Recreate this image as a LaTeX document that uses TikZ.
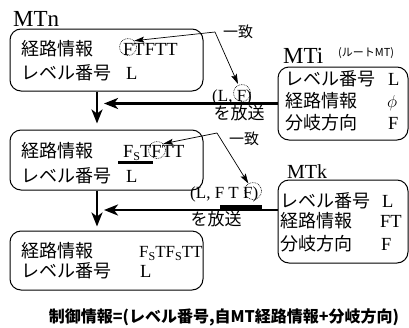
\documentclass[tikz,border=0pt]{standalone}
\usepackage{fontspec}
\setmainfont{Liberation Serif}
\newfontfamily\jp{Noto Sans CJK JP}
\usetikzlibrary{arrows.meta}
\newcommand\subS{\raisebox{-3pt}{\fontsize{12}{12}\selectfont S}}
\begin{document}
\begin{tikzpicture}[x=1pt,y=-1pt,
 box/.style={draw, rounded corners=11pt, line width=1pt, inner sep=0},
 jt/.style={font=\jp\fontsize{18}{20}\selectfont, inner sep=0, anchor=base west},
 lt/.style={font=\fontsize{18.5}{21}\selectfont, inner sep=0, anchor=base west},
 mt/.style={font=\fontsize{23}{25}\selectfont, inner sep=0, anchor=base west},
 lab/.style={font=\fontsize{17}{19}\selectfont, inner sep=0, anchor=base west},
 jlab/.style={font=\jp\fontsize{17}{19}\selectfont, inner sep=0},
 circ/.style={draw, circle, densely dotted, minimum size=17pt, inner sep=0, line width=0.7pt},
 big/.style={line width=2.6pt, -{Stealth[length=14pt,width=11pt,inset=4pt]}},
 pointer/.style={line width=0.7pt, -{Stealth[length=10pt,width=6pt,inset=2pt]}},
]
\useasboundingbox (0,0) rectangle (409,327);

% boxes
\node[box, minimum width=193pt, minimum height=62pt] (n1) at (106.5,60) {};
\node[box, minimum width=193pt, minimum height=60pt] (n2) at (106.5,160) {};
\node[box, minimum width=193pt, minimum height=59pt] (n3) at (106.5,260.5) {};
\node[box, minimum width=130pt, minimum height=73pt] (ti) at (343,103.5) {};
\node[box, minimum width=130pt, minimum height=83pt] (tk) at (343,221.5) {};

% titles
\node[mt] (lmtn) at (13,26) {MTn};
\node[mt] (lmti) at (283,63) {MTi};
\node[font=\jp\fontsize{11}{12}\selectfont, inner sep=0, anchor=west] (root) at (338,53) {(ルートMT)};
\node[mt, font=\fontsize{20}{22}\selectfont] (lmtk) at (287,178) {MTk};

% box 1
\node[jt] (n1a) at (21,55) {経路情報};
\node[lt] (n1av) at (123,55) {FTFTT};
\node[jt] (n1b) at (21,79) {レベル番号};
\node[lt] (n1bv) at (126,79) {L};

% box 2
\node[jt] (n2a) at (21,157) {経路情報};
\node[lt] (n2av) at (123,157) {F\subS TFTT};
\node[jt] (n2b) at (21,182) {レベル番号};
\node[lt] (n2bv) at (126,182) {L};

% box 3
\node[jt] (n3a) at (21,257) {経路情報};
\node[lt, font=\fontsize{17}{19}\selectfont] (n3av) at (139,257) {F\subS TF\subS TT};
\node[jt] (n3b) at (21,277) {レベル番号};
\node[lt] (n3bv) at (140,277) {L};

% MTi
\node[jt] (tia) at (285,85) {レベル番号};
\node[lt] (tiav) at (388,85) {L};
\node[jt] (tib) at (285,107) {経路情報};
\node[lt] (tibv) at (387,107) {$\phi$};
\node[jt] (tic) at (285,129) {分岐方向};
\node[lt] (ticv) at (388,129) {F};

% MTk
\node[jt] (tka) at (280,207) {レベル番号};
\node[lt] (tkav) at (382,207) {L};
\node[jt] (tkb) at (280,227) {経路情報};
\node[lt] (tkbv) at (380,227) {FT};
\node[jt] (tkc) at (280,250) {分岐方向};
\node[lt] (tkcv) at (381,250) {F};

% arrow labels
\node[lab] (l1) at (212,101) {(L, F)};
\node[jlab] (s1) at (239,113) {を放送};
\node[lab] (l2) at (190,198) {(L, F T F)};
\node[jlab] (s2) at (216,219) {を放送};
\node[jlab, font=\jp\fontsize{15}{17}\selectfont] (m1) at (238,32) {一致};
\node[jlab, font=\jp\fontsize{15}{17}\selectfont] (m2) at (244,139) {一致};

% dotted circles
\node[circ] (c1) at (128,47) {};
\node[circ] (c2) at (242,93) {};
\node[circ] (c3) at (157,150) {};
\node[circ] (c4) at (253,191) {};

% thick bars
\draw[line width=3pt] (118,162.5) -- (153,162.5);
\draw[line width=5pt] (220,207.5) -- (262,207.5);

% main arrows
\coordinate (vx) at (97,0);
\coordinate (h1) at (104,103.5);
\coordinate (h2) at (104,210);
\draw[big, shorten >=6pt] (vx |- n1.south) -- (vx |- n2.north);
\draw[big, shorten >=4pt] (vx |- n2.south) -- (vx |- n3.north);
\draw[big] (ti.west) -- (h1);
\draw[big] (tk.west |- h2) -- (h2);

% match pointers
\coordinate (k1) at (215,32);
\coordinate (k2) at (217,133);
\draw[pointer] (k1) -- (c1.north east);
\draw[pointer, shorten >=1pt] (k1) -- (c2);
\draw[pointer] (k2) -- (c3.north east);
\draw[pointer] (k2) -- (c4);

% caption
\node[font=\jp\bfseries\fontsize{16}{18}\selectfont, inner sep=0] (cap) at (224,317) {制御情報=(レベル番号,自MT経路情報+分岐方向)};
\end{tikzpicture}
\end{document}
